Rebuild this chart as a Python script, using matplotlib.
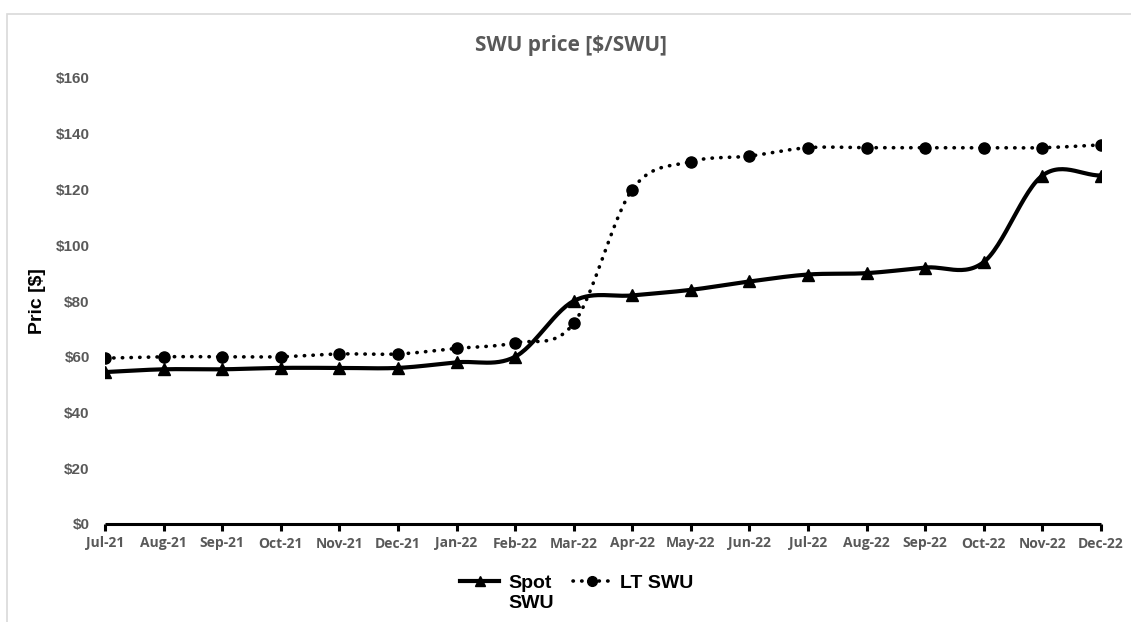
import numpy as np
import matplotlib.pyplot as plt
from matplotlib.patches import Rectangle
from matplotlib.lines import Line2D

months = ['Jul-21', 'Aug-21', 'Sep-21', 'Oct-21', 'Nov-21', 'Dec-21',
          'Jan-22', 'Feb-22', 'Mar-22', 'Apr-22', 'May-22', 'Jun-22',
          'Jul-22', 'Aug-22', 'Sep-22', 'Oct-22', 'Nov-22', 'Dec-22']
spot_swu = [54.5, 55.5, 55.5, 56, 56, 56, 58, 60, 80, 82, 84, 87,
            89.5, 90, 92, 94, 125, 125]
lt_swu = [59.5, 60, 60, 60, 61, 61, 63, 65, 72, 120, 130, 132,
          135, 135, 135, 135, 135, 136]


def smooth(x, y, n=30):
    # Catmull-Rom curve through the points, like a spreadsheet "smoothed line"
    x = np.asarray(x, float)
    y = np.asarray(y, float)
    px = np.concatenate([[2 * x[0] - x[1]], x, [2 * x[-1] - x[-2]]])
    py = np.concatenate([[2 * y[0] - y[1]], y, [2 * y[-1] - y[-2]]])
    t = np.linspace(0, 1, n)[:, None]
    xs, ys = [], []
    for i in range(1, len(px) - 2):
        for p, out in ((px, xs), (py, ys)):
            p0, p1, p2, p3 = p[i - 1], p[i], p[i + 1], p[i + 2]
            seg = 0.5 * ((2 * p1) + (-p0 + p2) * t
                         + (2 * p0 - 5 * p1 + 4 * p2 - p3) * t ** 2
                         + (-p0 + 3 * p1 - 3 * p2 + p3) * t ** 3)
            out.append(seg.ravel())
    return np.concatenate(xs), np.concatenate(ys)


plt.rcParams['font.family'] = ['Liberation Sans', 'DejaVu Sans']
DOTS = (0, (0.1, 2.3))

fig = plt.figure(figsize=(11.31, 6.22), dpi=100)
fig.patches.append(Rectangle((7 / 1131, -0.05), 1.2, 1 - 14 / 622 + 0.05,
                             transform=fig.transFigure, fill=False,
                             edgecolor='#d9d9d9', linewidth=1.2))

ax = fig.add_axes([105 / 1131, 1 - 524 / 622, 996 / 1131, 446 / 622])
x = np.arange(len(months))

sx, sy = smooth(x, spot_swu)
ax.plot(sx, sy, color='black', linewidth=3, solid_capstyle='round')
ax.plot(x, spot_swu, linestyle='none', marker='^', markersize=8, color='black')

lx, ly = smooth(x, lt_swu)
ax.plot(lx, ly, color='black', linewidth=2.6, linestyle=DOTS,
        dash_capstyle='round')
ax.plot(x, lt_swu, linestyle='none', marker='o', markersize=8, color='black')

ax.set_xlim(0, len(months) - 1)
ax.set_ylim(0, 160)
ax.set_yticks(range(0, 161, 20))
ax.set_yticklabels([f'${v}' for v in range(0, 161, 20)])
ax.set_xticks(x)
ax.set_xticklabels(months)

for side in ['top', 'right', 'left']:
    ax.spines[side].set_visible(False)
ax.spines['bottom'].set_linewidth(2.2)
ax.spines['bottom'].set_capstyle('butt')
ax.tick_params(axis='y', length=0, pad=11, labelsize=11, labelcolor='#595959')
ax.tick_params(axis='x', length=5, width=2.2, direction='out', pad=4,
               labelsize=10, labelcolor='#595959')
for lab in ax.get_yticklabels():
    lab.set_fontweight('bold')
for lab in ax.get_xticklabels():
    lab.set_fontweight('bold')
    lab.set_family(['Open Sans', 'DejaVu Sans'])
ax.set_ylabel('Pric [$]', fontsize=14, fontweight='bold', labelpad=7)
ax.patch.set_alpha(0)

fig.text(571 / 1131, 1 - 45 / 622, 'SWU price [$/SWU]',
         ha='center', va='center', fontsize=15, fontweight='bold',
         color='#595959', family=['Open Sans', 'DejaVu Sans'])

handles = [Line2D([], [], color='black', linewidth=3, marker='^', markersize=7),
           Line2D([], [], color='black', linewidth=2.6, linestyle=DOTS,
                  dash_capstyle='round', marker='o', markersize=7)]
leg = fig.legend(handles, ['Spot', 'LT SWU'], loc='center',
                 bbox_to_anchor=(577 / 1131, 1 - 583 / 622), ncol=2,
                 frameon=False, prop={'size': 14, 'weight': 'bold'},
                 handlelength=2.0, columnspacing=1.1, handletextpad=0.45)

# second line of the "Spot SWU" label, under "Spot"
fig.canvas.draw()
spot_box = leg.get_texts()[0].get_window_extent()
fig.text(spot_box.x0 / fig.bbox.width, (spot_box.y0 - 3) / fig.bbox.height,
         'SWU', ha='left', va='top', fontsize=14, fontweight='bold')

fig.savefig('out.png', dpi=100)
